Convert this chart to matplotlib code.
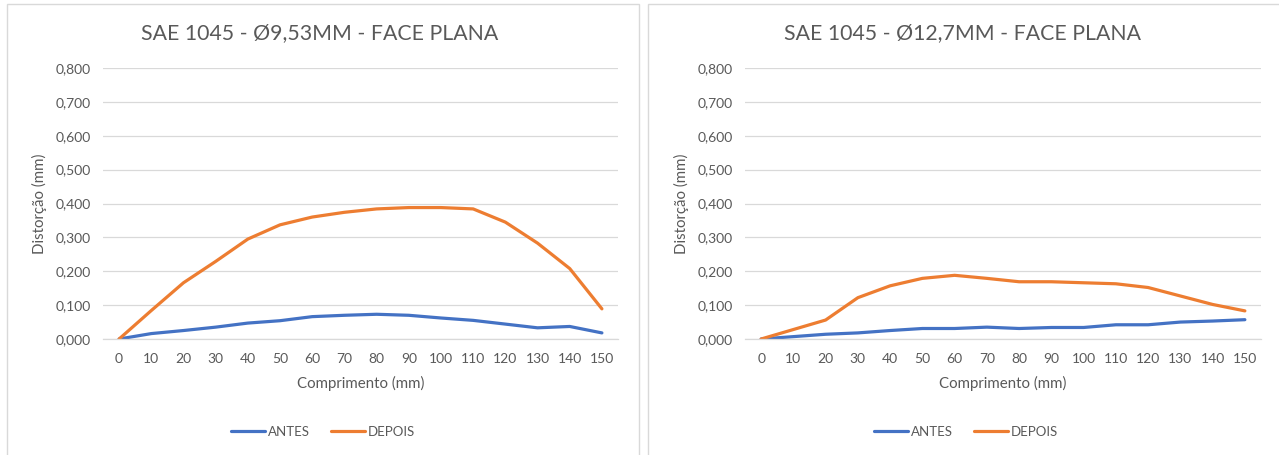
import matplotlib.pyplot as plt
from matplotlib.patches import Rectangle

plt.rcParams['font.family'] = ['Lato', 'DejaVu Sans']

comprimento = [0, 10, 20, 30, 40, 50, 60, 70, 80, 90, 100, 110, 120, 130, 140, 150]

antes_953 = [0.000, 0.016, 0.025, 0.035, 0.047, 0.054, 0.066, 0.070, 0.073, 0.070,
             0.062, 0.055, 0.044, 0.033, 0.037, 0.018]
depois_953 = [0.000, 0.084, 0.166, 0.229, 0.295, 0.337, 0.360, 0.374, 0.384, 0.388,
              0.388, 0.384, 0.345, 0.283, 0.208, 0.089]

antes_127 = [0.000, 0.007, 0.014, 0.018, 0.025, 0.031, 0.031, 0.035, 0.031, 0.034,
             0.034, 0.042, 0.042, 0.050, 0.053, 0.057]
depois_127 = [0.000, 0.028, 0.056, 0.122, 0.157, 0.179, 0.188, 0.179, 0.169, 0.169,
              0.166, 0.163, 0.152, 0.127, 0.102, 0.083]

titulos = ['SAE 1045 - Ø9,53MM - FACE PLANA', 'SAE 1045 - Ø12,7MM - FACE PLANA']
yticks = [0.0, 0.1, 0.2, 0.3, 0.4, 0.5, 0.6, 0.7, 0.8]

W, H = 1279, 455
AZUL = '#4472C4'
LARANJA = '#ED7D31'
CINZA = '#595959'
GRADE = '#D9D9D9'

fig = plt.figure(figsize=(W / 100, H / 100), dpi=100)


def caixa(x0, y0, x1, y1):
    # pixel coords (top-left origin) -> figure fraction
    return [x0 / W, 1 - y1 / H, (x1 - x0) / W, (y1 - y0) / H]


# chart frames
for x0, x1 in [(7, 639), (648, 1290)]:
    fig.patches.append(Rectangle((x0 / W, -0.05), (x1 - x0) / W, 1 - 4 / H + 0.05,
                                 transform=fig.transFigure, fill=False,
                                 edgecolor=GRADE, lw=1))

paineis = [
    (caixa(103, 68, 618, 339), antes_953, depois_953, titulos[0], 320),
    (caixa(745, 68, 1261, 339), antes_127, depois_127, titulos[1], 963),
]

for pos, antes, depois, titulo, cx in paineis:
    ax = fig.add_axes(pos)
    ax.plot(comprimento, antes, color=AZUL, lw=2.3, label='ANTES', solid_capstyle='round')
    ax.plot(comprimento, depois, color=LARANJA, lw=2.3, label='DEPOIS', solid_capstyle='round')
    ax.set_xlim(-5, 155)
    ax.set_ylim(0, 0.8)
    ax.set_xticks(comprimento)
    ax.set_xticklabels([str(c) for c in comprimento])
    ax.set_yticks(yticks)
    ax.set_yticklabels([f'{v:.3f}'.replace('.', ',') for v in yticks])
    ax.grid(axis='y', color=GRADE, lw=0.9)
    ax.set_axisbelow(True)
    for s in ['top', 'right', 'left']:
        ax.spines[s].set_visible(False)
    ax.spines['bottom'].set_color(GRADE)
    ax.spines['bottom'].set_linewidth(0.9)
    ax.tick_params(length=0, labelsize=10, labelcolor=CINZA)
    ax.tick_params(axis='x', pad=10)
    ax.tick_params(axis='y', pad=9)
    ax.set_xlabel('Comprimento (mm)', fontsize=10.8, color=CINZA, labelpad=8)
    ax.set_ylabel('Distorção (mm)', fontsize=10.8, color=CINZA, labelpad=6)
    fig.text(cx / W, 1 - 33 / H, titulo, fontsize=15.3, color=CINZA,
             ha='center', va='center')
    fig.legend(*ax.get_legend_handles_labels(), loc='center',
               bbox_to_anchor=((cx + 3) / W, 1 - 432 / H), ncol=2, frameon=False,
               fontsize=9.5, labelcolor=CINZA, handlelength=2.6, handletextpad=0.2,
               columnspacing=1.6)

fig.savefig('out.png', dpi=100)
